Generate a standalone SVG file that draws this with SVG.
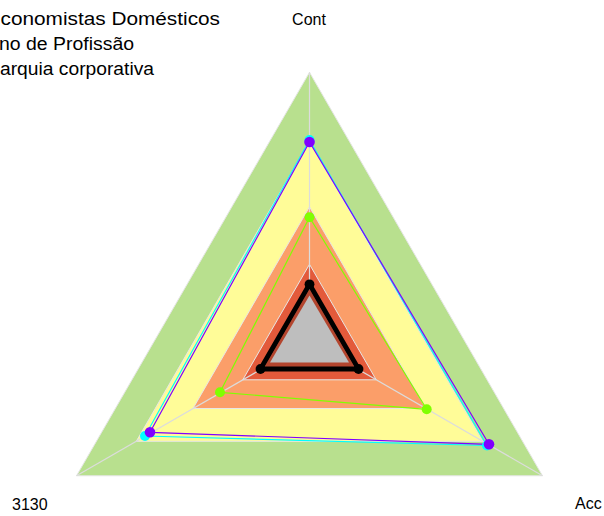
<svg xmlns="http://www.w3.org/2000/svg" width="604" height="516" viewBox="0 0 604 516">
<style>
  text { font-family: "Liberation Sans", Arial, sans-serif; font-size: 16px; fill: #000; }
  .leg { font-size: 17.5px; }
  .band { stroke: #E6E6E6; stroke-width: 1; }
  .axis { stroke: #DCDCDC; stroke-width: 1.2; fill: none; }
  .ser { fill: none; stroke-linejoin: round; }
</style>
<rect x="0" y="0" width="604" height="516" fill="#FFFFFF"/>
<g id="bands">
  <polygon class="band" fill="#B8E08E" points="309.5,72.3 76.5,475.8 542.5,475.8"/>
  <polygon class="band" fill="#FFFC98" points="309.5,141.3 136.3,441.3 482.7,441.3"/>
  <polygon class="band" fill="#FB9E69" points="309.5,206.8 193,408.5 426,408.5"/>
  <polygon class="band" fill="#E35A3B" points="309.5,264.3 242.8,379.8 376.2,379.8"/>
</g>
<g id="axes">
  <line class="axis" x1="309.5" y1="341.3" x2="309.5" y2="72.3"/>
  <line class="axis" x1="309.5" y1="341.3" x2="76.5" y2="475.8"/>
  <line class="axis" x1="309.5" y1="341.3" x2="542.5" y2="475.8"/>
</g>
<g id="inner">
  <polygon fill="#B3452E" points="309.5,289.3 264.5,367.3 354.5,367.3"/>
  <polygon fill="#BEBEBE" points="309.5,295.5 270,362.5 349,362.5"/>
</g>
<g id="connectors">
  <polygon class="ser" stroke="#00FFFF" stroke-width="1.2" points="309.5,140 145,436 487,445.5"/>
  <polygon class="ser" stroke="#8000FF" stroke-width="1.2" points="309.5,142 150,432.3 489,444.3"/>
  <polygon class="ser" stroke="#80FF00" stroke-width="1.2" points="309.5,217.3 220,392.3 426.7,409.3"/>
  <polygon class="ser" stroke="#000000" stroke-width="4.8" points="309.5,284.3 260.5,369 358.5,369"/>
</g>
<g id="series-cyan" fill="#00FFFF">
  <circle cx="309.5" cy="140" r="5"/>
  <circle cx="145" cy="436" r="5"/>
  <circle cx="487" cy="445.5" r="5"/>
</g>
<g id="series-purple" fill="#8000FF">
  <circle cx="309.5" cy="142" r="5.3"/>
  <circle cx="150" cy="432.3" r="5.3"/>
  <circle cx="489" cy="444.3" r="5.3"/>
</g>
<g id="series-lime" fill="#80FF00">
  <circle cx="309.5" cy="217.3" r="5"/>
  <circle cx="220" cy="392.3" r="5"/>
  <circle cx="426.7" cy="409.3" r="5"/>
</g>
<g id="series-black" fill="#000000">
  <circle cx="309.5" cy="284.3" r="4.9"/>
  <circle cx="260.5" cy="369" r="4.9"/>
  <circle cx="358.5" cy="369" r="4.9"/>
</g>
<g id="labels">
  <text x="309" y="25" text-anchor="middle">Cont</text>
  <text x="12" y="510">3130</text>
  <text x="575" y="509">Acc</text>
</g>
<g id="legend">
  <text class="leg" x="0.5" y="24.5" textLength="219.5" lengthAdjust="spacingAndGlyphs">conomistas Domésticos</text>
  <text class="leg" x="-1" y="49.5" textLength="135" lengthAdjust="spacingAndGlyphs">no de Profissão</text>
  <text class="leg" x="0" y="74.5" textLength="154" lengthAdjust="spacingAndGlyphs">arquia corporativa</text>
</g>
</svg>
